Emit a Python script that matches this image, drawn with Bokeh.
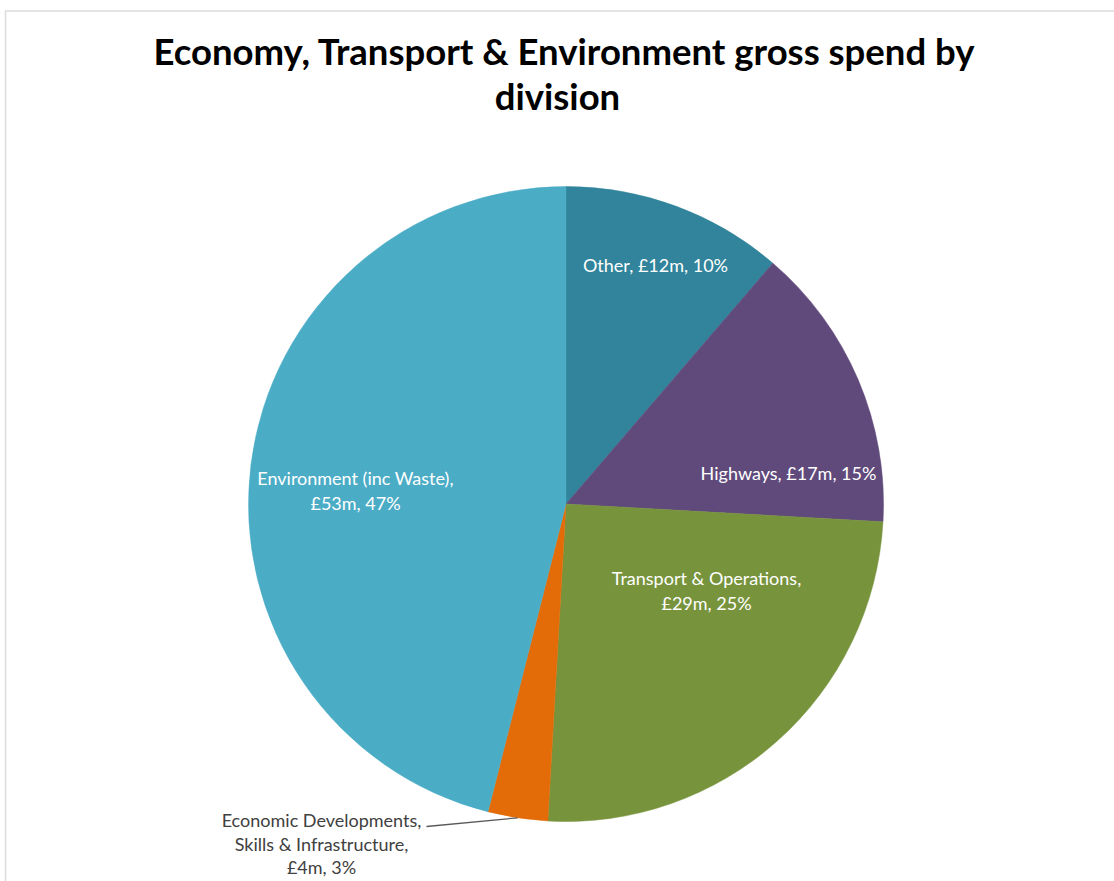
import math
from bokeh.plotting import figure
from bokeh.models import Range1d, BoxAnnotation
from bokeh.core.properties import value
from bokeh.embed import file_html
from bokeh.resources import INLINE

# ---- data ----
divisions = ["Other", "Highways", "Transport & Operations",
             "Economic Developments, Skills & Infrastructure",
             "Environment (inc Waste)"]
spend = [13.0, 16.8, 28.8, 3.5, 53.0]          # £m
label_lines = [
    ["Other, £12m, 10%"],
    ["Highways, £17m, 15%"],
    ["Transport & Operations,", "£29m, 25%"],
    ["Economic Developments,", "Skills & Infrastructure,", "£4m, 3%"],
    ["Environment (inc Waste),", "£53m, 47%"],
]
colors = ["#31849B", "#604A7B", "#77933C", "#E36C09", "#4BACC6"]
title_lines = ["Economy, Transport & Environment gross spend by", "division"]

# ---- layout (pixel-like coordinates: x = px, y = -py) ----
W, H = 1114, 881
cx, cy, R = 565.5, -503.5, 317.5
label_pos = [(655, -264), (788, -472), (706, -590), (321, -843), (355, -490)]
label_color = ["white", "white", "white", "#404040", "white"]
label_lh = [25.5, 25.5, 25.5, 23.5, 25.5]

p = figure(width=W, height=H, output_backend="svg", toolbar_location=None,
           x_range=Range1d(0, W), y_range=Range1d(-H, 0),
           min_border=0, min_border_left=0, min_border_right=0,
           min_border_top=0, min_border_bottom=0)
p.axis.visible = False
p.grid.visible = False
p.outline_line_color = None
p.background_fill_color = "white"
p.border_fill_color = "white"

# chart-area border (cropped on right/bottom)
p.add_layout(BoxAnnotation(left=5, top=-10.5, right=W + 50, bottom=-H - 50,
                           fill_alpha=0, line_color="#8c8c8c", line_width=1.5))

total = sum(spend)
starts, ends = [], []
cum = 0.0
for v in spend:
    a0 = math.pi / 2 - 2 * math.pi * cum / total
    cum += v
    a1 = math.pi / 2 - 2 * math.pi * cum / total
    starts.append(a0)
    ends.append(a1)

p.wedge(x=[cx] * len(spend), y=[cy] * len(spend), radius=R,
        start_angle=starts, end_angle=ends, direction="clock",
        fill_color=colors, line_color=colors, line_width=0.5)

# leader line for the small slice
i_small = 3
mid = (starts[i_small] + ends[i_small]) / 2
ex, ey = cx + R * math.cos(mid), cy + R * math.sin(mid)
p.line(x=[426, ex], y=[-826, ey], line_color="#595959", line_width=1.3)

# labels
xs, ys, txt, cols = [], [], [], []
for (lx, ly), lines, c, lh in zip(label_pos, label_lines, label_color, label_lh):
    n = len(lines)
    for k, t in enumerate(lines):
        xs.append(lx)
        ys.append(ly + (n - 1) / 2 * lh - k * lh)
        txt.append(t)
        cols.append(c)
p.text(x=xs, y=ys, text=txt, text_color=cols, text_align="center",
       text_baseline="middle", text_font=value("Lato"), text_font_size="18px")

# title
p.text(x=[564, 557], y=[-50, -95], text=title_lines, text_align="center",
       text_baseline="middle", text_font=value("Lato"), text_font_style="bold",
       text_font_size="36.5px", text_color="black")

open("out.html", "w").write(file_html(p, INLINE))
